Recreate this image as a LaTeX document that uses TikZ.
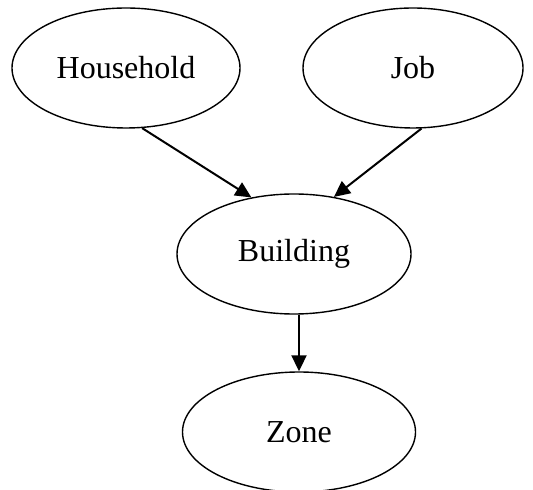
\documentclass[tikz,border=0pt]{standalone}
\usepackage{fontspec}
\setmainfont{Liberation Serif}
\usetikzlibrary{shapes.geometric,arrows.meta}

\begin{document}
\begin{tikzpicture}[x=0.5pt, y=-0.5pt,
    entity/.style={ellipse, draw=black, line width=0.7pt, inner sep=0pt, minimum height=60pt, font=\fontsize{16}{19}\selectfont},
    link/.style={line width=1pt, -{Triangle[length=8pt,width=7.5pt]}}]
    \useasboundingbox (0,0) rectangle (533,490);

    \node[entity, minimum width=114pt] (household) at (126,68) {Household};
    \node[entity, minimum width=110pt] (job) at (413,68) {Job};
    \node[entity, minimum width=117pt] (building) at (294,254) {Building};
    \node[entity, minimum width=116.5pt] (zone) at (299,432) {Zone};

    \draw[link] (household.-75) -- (building.127);
    \draw[link] (job.-82) -- (building.55);
    \draw[link] (zone.north |- building.south) -- (zone.north);
  \end{tikzpicture}
\end{document}
